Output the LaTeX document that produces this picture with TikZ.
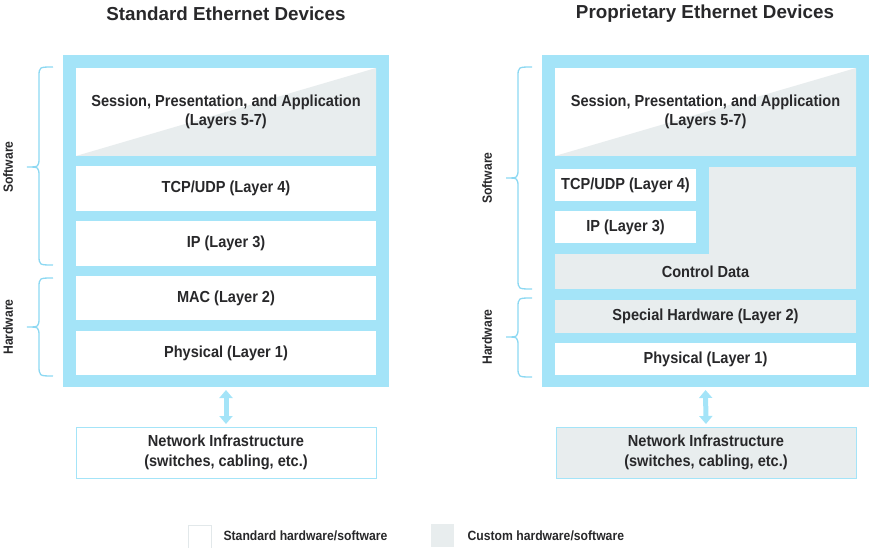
\documentclass[tikz,border=0pt]{standalone}
\usepackage{fontspec}
\setmainfont{Liberation Sans}[FakeStretch=0.91]
\newfontfamily\titlefont{Liberation Sans}
\usetikzlibrary{arrows.meta}
\definecolor{frameblue}{RGB}{164,228,248}
\definecolor{bracecol}{RGB}{140,216,242}
\definecolor{custgray}{RGB}{232,237,238}
\definecolor{txtcol}{RGB}{40,40,42}
\definecolor{legborder}{RGB}{226,232,234}
\begin{document}
\begin{tikzpicture}[x=1pt,y=-1pt,
  frame/.style={fill=frameblue, inner sep=0pt, outer sep=0pt, anchor=north west},
  layer/.style={fill=white, inner sep=0pt, outer sep=0pt, anchor=north west,
    font=\bfseries\fontsize{16}{19.5}\selectfont, text=txtcol, align=center},
  custlayer/.style={layer, fill=custgray},
  diaglayer/.style={layer, path picture={\fill[custgray]
      (path picture bounding box.south west) -- (path picture bounding box.north east)
      -- (path picture bounding box.south east) -- cycle;}},
  netbox/.style={layer, draw=frameblue, line width=1pt},
  title/.style={font=\titlefont\bfseries\fontsize{18.8}{22}\selectfont, text=txtcol},
  sidelabel/.style={font=\bfseries\fontsize{13.4}{15}\selectfont, text=txtcol, rotate=90},
  legtext/.style={font=\bfseries\fontsize{13.4}{15}\selectfont, text=txtcol, anchor=west},
  legbox/.style={minimum width=23pt, minimum height=23pt, inner sep=0pt, anchor=north west},
  bracestyle/.style={draw=bracecol, line width=1.3pt},
  dblarrow/.style={draw=frameblue, line width=5pt,
    {Triangle[length=8pt,width=13pt]}-{Triangle[length=8pt,width=13pt]},
    shorten >=3pt, shorten <=3pt}
]
\useasboundingbox (0,0) rectangle (869,548);

% ---------------- Left: Standard ----------------
\node[title] (ltitle) at (226,14) {Standard Ethernet Devices};
\node[frame, minimum width=326pt, minimum height=332pt] (lframe) at (63,55) {};
\node[diaglayer, minimum width=300pt, minimum height=88pt] (lsess) at (76,68)
  {Session, Presentation, and Application\\(Layers 5-7)};
\node[layer, minimum width=300pt, minimum height=45pt] (ltcp) at (76,166) {TCP/UDP (Layer 4)};
\node[layer, minimum width=300pt, minimum height=45pt] (lip) at (76,221) {IP (Layer 3)};
\node[layer, minimum width=300pt, minimum height=44pt] (lmac) at (76,276) {MAC (Layer 2)};
\node[layer, minimum width=300pt, minimum height=44pt] (lphy) at (76,331) {Physical (Layer 1)};
\node[netbox, minimum width=300pt, minimum height=51pt] (lnet) at (76,427)
  {Network Infrastructure\\(switches, cabling, etc.)};
\draw[dblarrow] (lframe.south) -- (lnet.north);

% braces left
\draw[bracestyle] (53,67) .. controls (39,67) .. (39,77) -- (39,157)
  .. controls (39,167) .. (27,167) .. controls (39,167) .. (39,177) -- (39,255)
  .. controls (39,265) .. (53,265);
\draw[bracestyle] (53,278) .. controls (39,278) .. (39,288) -- (39,317)
  .. controls (39,327) .. (27,327) .. controls (39,327) .. (39,337) -- (39,365)
  .. controls (39,376) .. (53,376);
\node[sidelabel] (lsw) at (8,167) {Software};
\node[sidelabel] (lhw) at (8,327) {Hardware};

% ---------------- Right: Proprietary ----------------
\node[title] (rtitle) at (705,14) {Proprietary Ethernet Devices};
\node[frame, minimum width=327pt, minimum height=332pt] (rframe) at (542,55) {};
\node[diaglayer, minimum width=301pt, minimum height=88pt] (rsess) at (555,68)
  {Session, Presentation, and Application\\(Layers 5-7)};
\node[custlayer, minimum width=147pt, minimum height=122pt] (rcdr) at (709,167) {};
\node[custlayer, minimum width=301pt, minimum height=35pt] (rcd) at (555,254) {Control Data};
\node[layer, minimum width=141pt, minimum height=32pt] (rtcp) at (555,169) {TCP/UDP (Layer 4)};
\node[layer, minimum width=141pt, minimum height=32pt] (rip) at (555,211) {IP (Layer 3)};
\node[custlayer, minimum width=301pt, minimum height=33pt] (rspec) at (555,300) {Special Hardware (Layer 2)};
\node[layer, minimum width=301pt, minimum height=32pt] (rphy) at (555,343) {Physical (Layer 1)};
\node[netbox, fill=custgray, minimum width=300pt, minimum height=51pt] (rnet) at (556,427)
  {Network Infrastructure\\(switches, cabling, etc.)};
\draw[dblarrow] (rframe.south) -- (rnet.north);

% braces right
\draw[bracestyle] (532,67) .. controls (518,67) .. (518,77) -- (518,168)
  .. controls (518,178) .. (506,178) .. controls (518,178) .. (518,188) -- (518,279)
  .. controls (518,289) .. (532,289);
\draw[bracestyle] (532,298) .. controls (518,298) .. (518,308) -- (518,327)
  .. controls (518,337) .. (506,337) .. controls (518,337) .. (518,347) -- (518,367)
  .. controls (518,377) .. (532,377);
\node[sidelabel] (rsw) at (487,178) {Software};
\node[sidelabel] (rhw) at (487,337) {Hardware};

% ---------------- Legend ----------------
\node[legbox, fill=white, draw=legborder, line width=1pt] (legstd) at (188,525) {};
\node[legtext] (legstdt) at (220,536) {Standard hardware/software};
\node[legbox, fill=custgray] (legcus) at (431,524) {};
\node[legtext] (legcust) at (464,536) {Custom hardware/software};
\end{tikzpicture}
\end{document}
